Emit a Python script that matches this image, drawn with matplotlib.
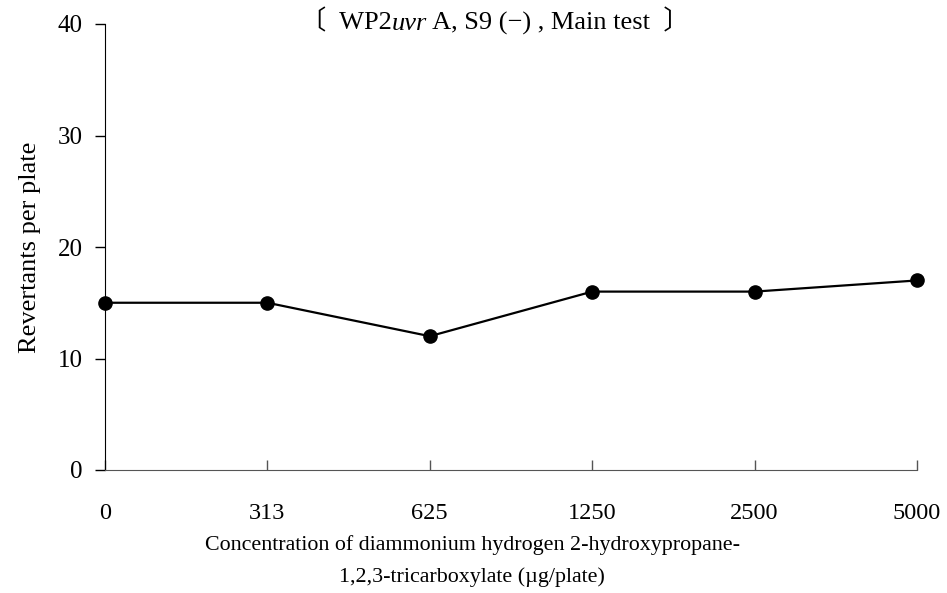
import matplotlib.pyplot as plt

plt.rcParams['font.family'] = ['Liberation Serif', 'Noto Sans CJK JP']

# data
doses = ['0', '313', '625', '1250', '2500', '5000']
revertants = [15, 15, 12, 16, 16, 17]

fig = plt.figure(figsize=(9.47, 5.93), dpi=100)
ax = fig.add_axes([105/947, 1 - 470/593, (917 - 105)/947, (470 - 24)/593])

x = list(range(len(doses)))
ax.plot(x, revertants, color='black', lw=1.6, marker='o', ms=9.5, clip_on=False, zorder=3)

ax.set_xlim(0, len(doses) - 1)
ax.set_ylim(0, 40)
ax.set_yticks([0, 10, 20, 30, 40])
ax.set_xticks(x)
ax.set_xticklabels(doses)

for s in ['top', 'right']:
    ax.spines[s].set_visible(False)
ax.spines['left'].set_color('black')
ax.spines['bottom'].set_color('#555555')

ax.tick_params(axis='y', direction='out', length=7, width=1, labelsize=18, pad=9)
ax.tick_params(axis='x', direction='in', length=7, width=1, color='#555555', labelsize=17.5, pad=24)

ax.set_ylabel('Revertants per plate', fontsize=19, labelpad=12)

# title built from pieces so the italic part and the CJK brackets both render
fs = 19
t0 = fig.text(300/947, 1 - 22/593, '〔  WP2', ha='left', va='center', fontsize=fs)
parts = [('uvr', 'italic'), (' A, S9 (−) , Main test  〕', 'normal')]
prev = t0
for s, st in parts:
    prev = ax.annotate(s, xy=(1, 0), xycoords=prev, ha='left', va='bottom',
                       fontsize=fs, fontstyle=st)

fig.text(472/947, 1 - 545/593, 'Concentration of diammonium hydrogen 2-hydroxypropane-',
         ha='center', va='center', fontsize=15.8)
fig.text(472/947, 1 - 577/593, '1,2,3-tricarboxylate (µg/plate)',
         ha='center', va='center', fontsize=15.8)

fig.savefig('out.png', dpi=100)
